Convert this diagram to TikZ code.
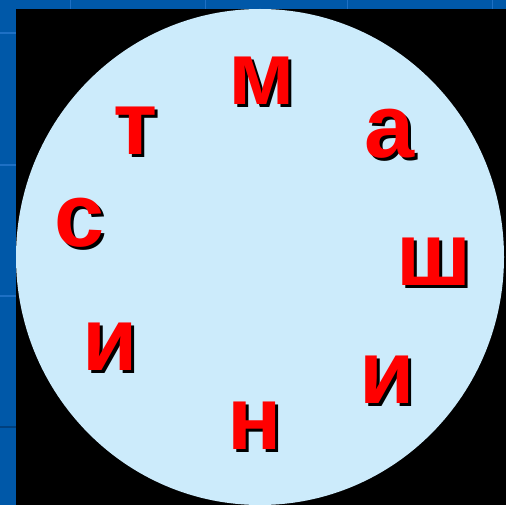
\documentclass[tikz,border=0pt]{standalone}
\usepackage{fontspec}
\setmainfont{Liberation Sans}
\definecolor{frameblue}{HTML}{0058A8}
\definecolor{framelight}{HTML}{1E70C4}
\definecolor{framedark}{HTML}{00407E}
\definecolor{discblue}{HTML}{CCEBFB}
\definecolor{letterred}{HTML}{FF0000}
\tikzset{
  letter/.style={inner sep=0pt, font=\fontsize{90}{90}\selectfont\bfseries},
  redletter/.style={letter, text=letterred},
  shadowletter/.style={letter, text=black},
}
\newcommand{\shadowed}[3]{%
  \node[shadowletter] (#1s) at ([xshift=3pt,yshift=-3pt]#2) {#3};
  \node[redletter] (#1) at (#2) {#3};
}
\begin{document}
\begin{tikzpicture}[x=1pt,y=-1pt]
\useasboundingbox (0,0) rectangle (506,505);
% blue frame
\fill[frameblue] (0,0) rectangle (506,505);
\foreach \xx in {70,205,347,492} \draw[framelight, line width=1pt] (\xx,0) -- (\xx,9);
\foreach \yy in {33,165,296} \draw[framelight, line width=1.2pt] (0,\yy) -- (16,\yy);
\draw[framedark, line width=1.2pt] (0,427) -- (16,427);
% black field
\fill[black] (16,9) rectangle (506,505);
% disc
\fill[discblue] (260,257) ellipse [x radius=244, y radius=248];
% letters
\shadowed{m}{262,81}{м}
\shadowed{t}{136,131}{т}
\shadowed{a}{390,134}{а}
\shadowed{s}{80,223}{с}
\shadowed{sh}{434,262}{ш}
\shadowed{i1}{110,347}{и}
\shadowed{i2}{387,380}{и}
\shadowed{n}{255,426}{н}
\end{tikzpicture}
\end{document}
